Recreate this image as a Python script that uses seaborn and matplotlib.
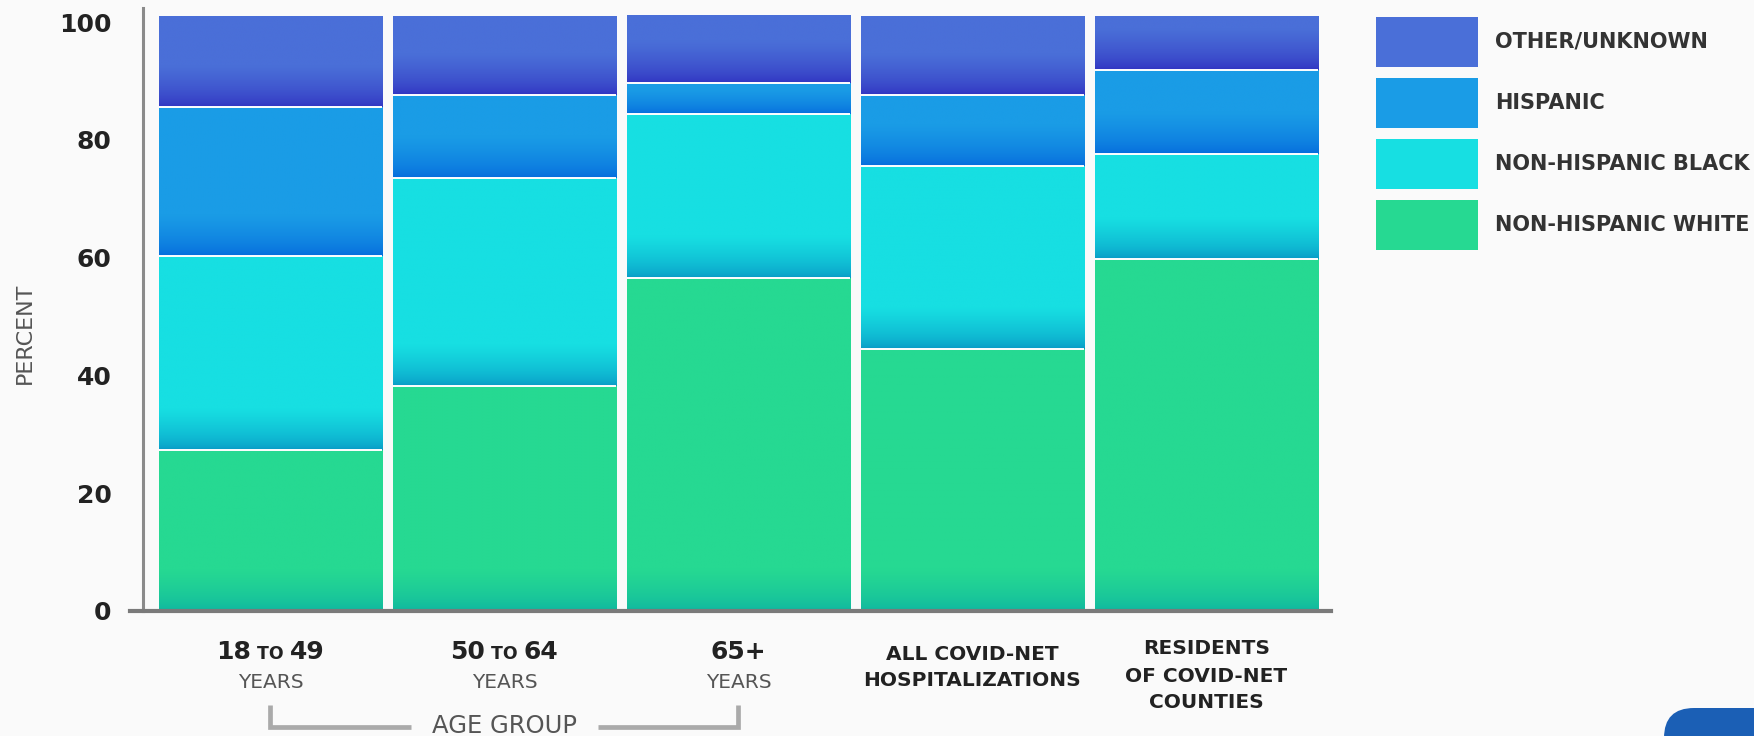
import numpy as np
import pandas as pd
import matplotlib
matplotlib.use("Agg")
import matplotlib.pyplot as plt
import seaborn as sns
from matplotlib.patches import Patch, FancyBboxPatch
from matplotlib.colors import to_rgb
from matplotlib.offsetbox import TextArea, HPacker, AnnotationBbox
from matplotlib.transforms import IdentityTransform

# data (percent of hospitalizations / residents)
groups = ["18-49", "50-64", "65+", "all", "residents"]
white_pct = [27.3, 38.2, 56.5, 44.5, 59.8]
black_pct = [33.0, 35.3, 27.9, 31.1, 17.8]
hispanic_pct = [25.3, 14.1, 5.2, 12.0, 14.3]
other_pct = [15.4, 13.4, 11.4, 13.4, 9.1]

layer_keys = ["white", "black", "hispanic", "other"]
layer_names = ["NON-HISPANIC WHITE", "NON-HISPANIC BLACK", "HISPANIC", "OTHER/UNKNOWN"]
light_cols = ["#26d992", "#17dfe2", "#1a9ce6", "#4a6fd8"]
dark_cols = ["#0db4a2", "#0896c4", "#0468dc", "#2f2fc0"]

yticks = [0, 20, 40, 60, 80, 100]
age_top = [("18", "TO", "49"), ("50", "TO", "64"), ("65+", "", "")]
other_labels = [["ALL COVID-NET", "HOSPITALIZATIONS"],
                ["RESIDENTS", "OF COVID-NET", "COUNTIES"]]

W, H = 1754, 736
BG = "#fafafa"
sns.set_theme(style="white")
plt.rcParams["font.family"] = ["DejaVu Sans"]

fig = plt.figure(figsize=(W / 100, H / 100), dpi=100, facecolor=BG)
ax = fig.add_axes([130 / W, 1 - 611 / H, 1201 / W, 603 / H])
ax.set_facecolor(BG)

df = pd.DataFrame({"group": groups, "white": white_pct, "black": black_pct,
                   "hispanic": hispanic_pct, "other": other_pct})
cum = df[layer_keys].cumsum(axis=1)

# stacked bars: draw cumulative totals from the top layer down
for i in reversed(range(len(layer_keys))):
    sns.barplot(x=df["group"], y=cum[layer_keys[i]], color=light_cols[i],
                saturation=1, width=0.953, errorbar=None, linewidth=0,
                ax=ax, zorder=2)

# vertical gradient on each segment, darker at the bottom
first_bars = ax.patches[:len(groups)]
ramp = 7.0
for i, key in enumerate(layer_keys):
    lo_c = np.array(to_rgb(dark_cols[i]))
    hi_c = np.array(to_rgb(light_cols[i]))
    for k, bar in enumerate(first_bars):
        bottom = cum[layer_keys[i - 1]][k] if i > 0 else 0.0
        top = cum[key][k]
        v = np.linspace(bottom, top, 300)
        t = np.clip((v - bottom) / min(ramp, 0.8 * (top - bottom)), 0, 1) ** 0.6
        img = (lo_c + (hi_c - lo_c) * t[:, None])[:, None, :]
        x0, w = bar.get_x(), bar.get_width()
        ax.imshow(img, extent=[x0, x0 + w, bottom, top], origin="lower",
                  aspect="auto", interpolation="bilinear", zorder=2.5)
        if i < len(layer_keys) - 1:
            ax.hlines(top, x0, x0 + w, color="white", lw=1.4, zorder=3)

ax.set_xlim(-0.6, -0.6 + 1201 / 234)
ax.set_ylim(0, 102.4)
ax.set_xlabel("")
ax.set_ylabel("")

# axes styling
for s in ["top", "right"]:
    ax.spines[s].set_visible(False)
ax.spines["left"].set_position(("data", -0.545))
ax.spines["left"].set_color("#8a8a8a")
ax.spines["left"].set_linewidth(2.2)
ax.spines["bottom"].set_color("#7a7a7a")
ax.spines["bottom"].set_linewidth(3)
ax.set_yticks(yticks)
ax.tick_params(axis="y", length=8.6, width=1.6, color="#8a8a8a", pad=14,
               labelsize=18, labelcolor="#222222")
for lbl in ax.get_yticklabels():
    lbl.set_fontweight("bold")
ax.tick_params(axis="x", length=0, labelbottom=False)

fig.text(25 / W, 1 - 333 / H, "PERCENT", rotation=90, ha="center", va="center",
         fontsize=16, color="#555555")


def yfrac(py):
    return (611 - py) / 603


xtr = ax.get_xaxis_transform()

# category labels
for k, (a, mid, b) in enumerate(age_top):
    parts = [TextArea(a, textprops=dict(fontsize=18, fontweight="bold", color="#222"))]
    if mid:
        parts.append(TextArea(" " + mid + " ", textprops=dict(fontsize=12.5, fontweight="bold", color="#222")))
        parts.append(TextArea(b, textprops=dict(fontsize=18, fontweight="bold", color="#222")))
    box = HPacker(children=parts, align="baseline", pad=0, sep=0)
    ab = AnnotationBbox(box, (k, yfrac(652)), xycoords=xtr, frameon=False,
                        box_alignment=(0.5, 0.5), annotation_clip=False)
    ax.add_artist(ab)
    ax.text(k, yfrac(682), "YEARS", transform=xtr, ha="center", va="center",
            fontsize=14.5, color="#555555", clip_on=False)

line_y = {0: [654, 681], 1: [649, 676, 703]}
for j, lines in enumerate(other_labels):
    for ln, py in zip(lines, line_y[j]):
        ax.text(len(age_top) + j, yfrac(py), ln, transform=xtr, ha="center",
                va="center", fontsize=14.5, fontweight="bold", color="#222",
                clip_on=False)

# age group bracket
yb_top, yb = yfrac(705), yfrac(727)
ax.plot([0, 0, 1 - 0.4], [yb_top, yb, yb], transform=xtr, color="#aaaaaa",
        lw=3.4, clip_on=False, solid_capstyle="butt", solid_joinstyle="miter")
ax.plot([1 + 0.4, 2, 2], [yb, yb, yb_top], transform=xtr, color="#aaaaaa",
        lw=3.4, clip_on=False, solid_capstyle="butt", solid_joinstyle="miter")
ax.text(1, yfrac(726), "AGE GROUP", transform=xtr, ha="center", va="center",
        fontsize=17.5, color="#555555", clip_on=False)

# legend
handles = [Patch(facecolor=light_cols[i], edgecolor="none") for i in reversed(range(4))]
labels = list(reversed(layer_names))
fig.legend(handles, labels, loc="upper left", bbox_to_anchor=(1376 / W, 1 - 17 / H),
           frameon=False, borderpad=0, borderaxespad=0,
           handlelength=4.9, handleheight=3.315, labelspacing=0.53,
           handletextpad=0.82, prop=dict(size=15, weight="bold"),
           labelcolor="#333333")

# partial agency seal in the corner
fig.add_artist(FancyBboxPatch((1664, -80), 160, 108, transform=IdentityTransform(),
                              boxstyle="round,pad=0,rounding_size=30",
                              facecolor="#1b5fb5", edgecolor="none"))

fig.savefig("out.png", dpi=100, facecolor=BG)
